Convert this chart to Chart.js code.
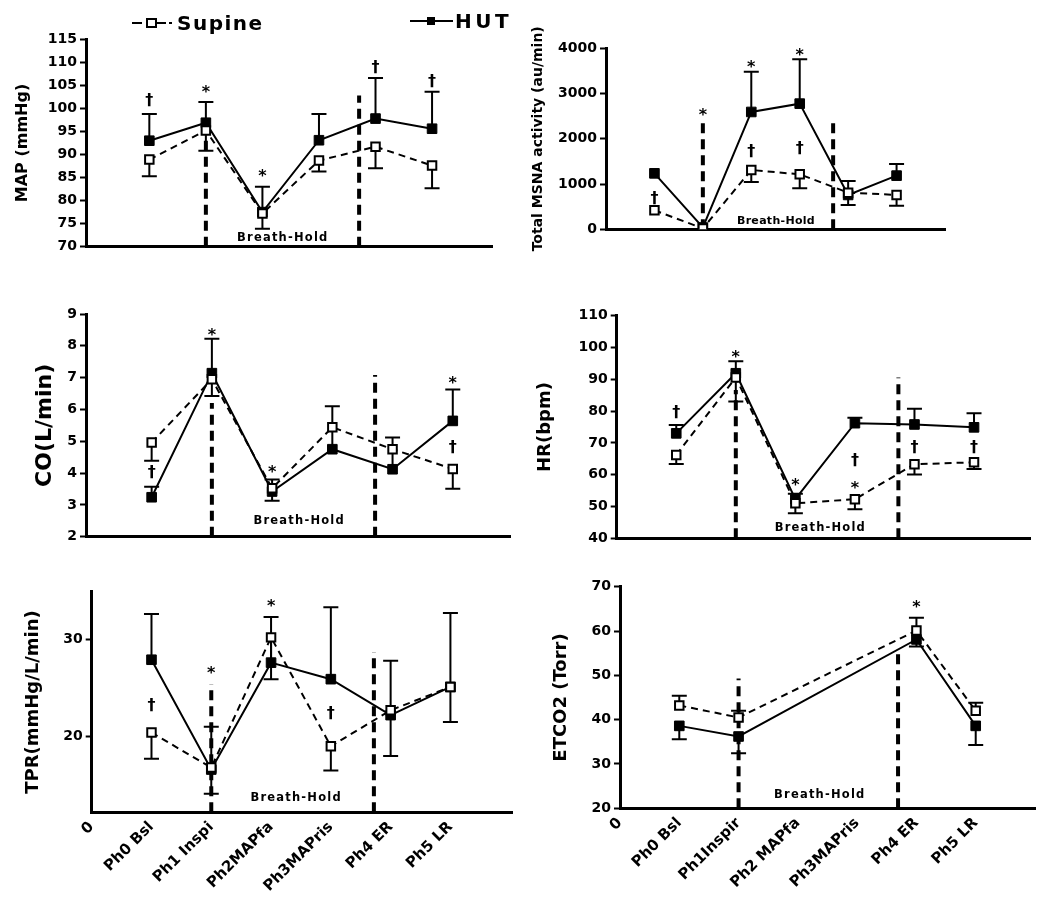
<!DOCTYPE html>
<html>
<head>
<meta charset="utf-8">
<script src="https://cdn.jsdelivr.net/npm/chart.js@4/dist/chart.umd.min.js"></script>
<style>
html,body{margin:0;padding:0;background:#fff;}
body{width:1050px;height:897px;position:relative;overflow:hidden;font-family:"DejaVu Sans","Liberation Sans",Arial,sans-serif;}
.pane{position:absolute;}
.pane canvas{display:block;}
.lg{position:absolute;background:#000;}
.lgtxt{position:absolute;font-weight:bold;font-size:20px;line-height:20px;color:#000;white-space:nowrap;}
</style>
</head>
<body>
<div class="pane" style="left:0;top:0;"><canvas id="cMAP" width="520" height="270"></canvas></div>
<div class="pane" style="left:520px;top:0;"><canvas id="cMSNA" width="530" height="270"></canvas></div>
<div class="pane" style="left:0;top:280px;"><canvas id="cCO" width="520" height="290"></canvas></div>
<div class="pane" style="left:520px;top:280px;"><canvas id="cHR" width="530" height="290"></canvas></div>
<div class="pane" style="left:0;top:570px;"><canvas id="cTPR" width="520" height="327"></canvas></div>
<div class="pane" style="left:520px;top:570px;"><canvas id="cET" width="530" height="327"></canvas></div>

<!-- legend -->
<div class="lg" style="left:132px;top:22px;width:10px;height:2px;"></div>
<div class="lg" style="left:157px;top:22px;width:9px;height:2px;"></div>
<div class="lg" style="left:169px;top:22px;width:3px;height:2px;"></div>
<div style="position:absolute;left:146px;top:18px;width:7px;height:6px;border:2px solid #000;background:#fff;"></div>
<div class="lgtxt" id="legSup" style="left:177px;top:13px;letter-spacing:1.5px;"></div>
<div class="lg" style="left:410px;top:20px;width:43px;height:2px;"></div>
<div class="lg" style="left:427px;top:17px;width:8px;height:8px;"></div>
<div class="lgtxt" id="legHut" style="left:455px;top:11px;letter-spacing:3.5px;"></div>

<script>
// ---------- categories / labels ----------
const seriesNames = ['Supine', 'HUT'];
const originLabel = '0';
const phaseLabels = ['Ph0 Bsl', 'Ph1 Inspi', 'Ph2MAPfa', 'Ph3MAPris', 'Ph4 ER', 'Ph5 LR'];
const phaseLabelsEt = ['Ph0 Bsl', 'Ph1Inspir', 'Ph2 MAPfa', 'Ph3MAPris', 'Ph4 ER', 'Ph5 LR'];
const breathHoldText = 'Breath-Hold';

// ---------- MAP (mmHg) ----------
const mapTicks = [70, 75, 80, 85, 90, 95, 100, 105, 110, 115];
const mapSupine = [88.9, 95.2, 77.2, 88.7, 91.7, 87.6];
const mapSupineErr = [85.3, 90.8, 73.9, 86.3, 87.0, 82.7];
const mapHut = [93.0, 96.9, 77.5, 93.1, 97.8, 95.6];
const mapHutErr = [98.8, 101.4, 83.0, 98.8, 106.6, 103.6];
const mapSig = [[0, 101.7, '†'], [1, 104.1, '*'], [2, 85.7, '*'], [4, 108.7, '†'], [5, 105.8, '†']];

// ---------- Total MSNA activity (au/min) ----------
const msnaTicks = [0, 1000, 2000, 3000, 4000];
const msnaSupine = [420, 20, 1311, 1215, 810, 759];
const msnaSupineErr = [null, null, 1046, 906, 538, 523];
const msnaHut = [1237, 40, 2593, 2777, 759, 1186];
const msnaHutErr = [null, null, 3484, 3757, 1068, 1444];
const msnaSig = [[0, 678, '†'], [1, 2563, '*'], [2, 3631, '*'], [3, 3904, '*'], [2, 1709, '†'], [3, 1768, '†']];

// ---------- CO (L/min) ----------
const coTicks = [2, 3, 4, 5, 6, 7, 8, 9];
const coSupine = [4.96, 6.95, 3.52, 5.44, 4.75, 4.13];
const coSupineErr = [4.39, 6.42, 3.13, null, null, 3.51];
const coHut = [3.24, 7.14, 3.42, 4.75, 4.12, 5.64];
const coHutErr = [3.57, 8.22, 3.80, 6.10, 5.12, 6.63];
const coSig = [[0, 4.01, '†'], [1, 8.41, '*'], [2, 4.09, '*'], [5, 6.91, '*'], [5, 4.78, '†']];

// ---------- HR (bpm) ----------
const hrTicks = [40, 50, 60, 70, 80, 90, 100, 110];
const hrSupine = [66.2, 90.6, 51.0, 52.3, 63.3, 63.9];
const hrSupineErr = [63.4, 83.0, 47.9, 49.1, 60.1, 61.8];
const hrHut = [73.0, 91.9, 52.3, 76.2, 75.8, 74.9];
const hrHutErr = [75.6, 95.7, 54.0, 77.9, 80.7, 79.3];
const hrSig = [[0, 79.6, '†'], [1, 97.8, '*'], [2, 57.3, '*'], [3, 64.3, '†'], [3, 56.5, '*'], [4, 68.3, '†'], [5, 68.3, '†']];

// ---------- TPR (mmHg/L/min) ----------
const tprTicks = [20, 30];
const tprSupine = [20.4, 16.8, 30.2, 19.0, 22.7, 25.1];
const tprSupineErr = [17.7, 14.1, 25.9, 16.5, 18.0, 21.5];
const tprHut = [27.9, 16.6, 27.6, 25.9, 22.2, 25.1];
const tprHutErr = [32.6, 21.0, 32.3, 33.3, 27.8, 32.7];
const tprSig = [[0, 23.15, '†'], [1, 26.75, '*'], [2, 33.66, '*'], [3, 22.33, '†']];

// ---------- ETCO2 (Torr) ----------
const etTicks = [20, 30, 40, 50, 60, 70];
const etSupine = [43.2, 40.5, null, null, 60.1, 42.0];
const etSupineErr = [45.4, 42.0, null, null, 63.0, 43.8];
const etHut = [38.6, 36.2, null, null, 58.1, 38.6];
const etHutErr = [35.6, 32.4, null, null, 56.5, 34.3];
const etSig = [[4, 66.0, '*']];

// ---------- drawing ----------
const FONT = '"DejaVu Sans", "Liberation Sans", Arial, sans-serif';
document.getElementById('legSup').textContent = seriesNames[0];
document.getElementById('legHut').textContent = seriesNames[1];

const overlay = {
  id: 'overlay',
  beforeDatasetsDraw(chart, args, o) {
    const ctx = chart.ctx, xs = chart.scales.x, ys = chart.scales.y;
    ctx.save();
    // phase divider lines
    ctx.strokeStyle = '#000';
    ctx.lineWidth = 4;
    ctx.setLineDash([10, 6]);
    o.dividers.forEach(d => {
      const px = xs.getPixelForValue(d[0]);
      ctx.beginPath();
      ctx.moveTo(px, ys.getPixelForValue(ys.min));
      ctx.lineTo(px, ys.getPixelForValue(d[1]));
      ctx.stroke();
    });
    ctx.setLineDash([]);
    // error bars
    ctx.lineWidth = 2;
    o.errors.forEach(pair => {
      const vals = pair[0], caps = pair[1];
      vals.forEach((v, i) => {
        if (v == null || caps[i] == null) return;
        const px = xs.getPixelForValue(i + 1);
        const p0 = ys.getPixelForValue(v), p1 = ys.getPixelForValue(caps[i]);
        ctx.beginPath();
        ctx.moveTo(px, p0); ctx.lineTo(px, p1);
        ctx.moveTo(px - 7.5, p1); ctx.lineTo(px + 7.5, p1);
        ctx.stroke();
      });
    });
    // Breath-Hold label
    ctx.fillStyle = '#000';
    ctx.font = 'bold ' + o.bhSize + 'px ' + FONT;
    ctx.letterSpacing = o.bhSpacing + 'px';
    ctx.textAlign = 'center';
    ctx.textBaseline = 'middle';
    ctx.fillText(breathHoldText, xs.getPixelForValue(o.bh[0]), ys.getPixelForValue(o.bh[1]));
    ctx.restore();
  },
  afterDatasetsDraw(chart, args, o) {
    const ctx = chart.ctx, xs = chart.scales.x, ys = chart.scales.y;
    ctx.save();
    ctx.fillStyle = '#000';
    ctx.font = 'bold 16px ' + FONT;
    ctx.textAlign = 'center';
    ctx.textBaseline = 'middle';
    o.sig.forEach(s => {
      const px = xs.getPixelForValue(s[0] + 1);
      const py = ys.getPixelForValue(s[1]) + (s[2] === '*' ? 3 : 0);
      ctx.fillText(s[2], px, py);
    });
    ctx.restore();
  }
};

function makePanel(p) {
  const ds = (vals, hollow) => ({
    label: hollow ? seriesNames[0] : seriesNames[1],
    data: vals.map((v, i) => ({ x: i + 1, y: v })),
    borderColor: '#000',
    borderWidth: 2,
    borderDash: hollow ? [7, 5] : [],
    pointStyle: 'rect',
    pointRadius: hollow ? 6 : 6.8,
    pointHoverRadius: hollow ? 6 : 6.8,
    pointBackgroundColor: hollow ? '#fff' : '#000',
    pointBorderColor: '#000',
    pointBorderWidth: hollow ? 2 : 1,
    spanGaps: true,
    tension: 0,
    fill: false
  });
  const xLabels = p.xLabels ? [originLabel].concat(p.xLabels) : null;
  new Chart(document.getElementById(p.id), {
    type: 'line',
    data: { datasets: [ds(p.sup, true), ds(p.hut, false)] },
    options: {
      responsive: false,
      animation: false,
      events: [],
      layout: { padding: { left: 0, top: p.padTop, right: p.padRight, bottom: 0 } },
      plugins: {
        legend: { display: false },
        tooltip: { enabled: false },
        overlay: { dividers: p.dividers, errors: [[p.sup, p.supErr], [p.hut, p.hutErr]], sig: p.sig, bh: p.bh, bhSize: p.bhSize || 11.5, bhSpacing: p.bhSpacing == null ? 1.2 : p.bhSpacing }
      },
      scales: {
        x: {
          type: 'linear',
          min: p.xMin, max: p.xMax,
          grid: { display: false, drawTicks: false },
          border: { display: true, color: '#000', width: 3 },
          ticks: xLabels ? {
            display: true, autoSkip: false, minRotation: 45, maxRotation: 45,
            color: '#000', padding: 6,
            font: { family: FONT, size: 15, weight: 'bold' },
            callback: v => xLabels[v]
          } : { display: false },
          afterBuildTicks: s => { if (xLabels) s.ticks = xLabels.map((_, i) => ({ value: i })); },
          afterFit: s => { s.height = p.xH; s.paddingLeft = 0; s.paddingRight = 0; }
        },
        y: {
          type: 'linear',
          min: p.yMin, max: p.yMax,
          grid: { display: true, drawOnChartArea: false, drawTicks: true, tickLength: 6, tickWidth: 2, tickColor: '#000' },
          border: { display: true, color: '#000', width: 3 },
          ticks: { color: '#000', padding: 3, autoSkip: false, font: { family: FONT, size: 14, weight: 'bold' }, callback: v => String(v) },
          afterBuildTicks: s => { s.ticks = p.yTicks.map(v => ({ value: v })); },
          title: { display: true, text: p.title, color: '#000', font: { family: FONT, size: p.titleSize, weight: 'bold' }, padding: { top: p.titlePad, bottom: 0 } },
          afterFit: s => { s.width = p.yW; s.paddingTop = 0; s.paddingBottom = 0; }
        }
      }
    },
    plugins: [overlay]
  });
}

makePanel({ id: 'cMAP', sup: mapSupine, supErr: mapSupineErr, hut: mapHut, hutErr: mapHutErr, sig: mapSig,
  yTicks: mapTicks, yMin: 70, yMax: 115, xMin: -0.12, xMax: 7.06,
  yW: 86, padTop: 39.3, padRight: 28, xH: 23.3,
  title: 'MAP (mmHg)', titleSize: 16, titlePad: 13.4,
  dividers: [[2, 96], [4.71, 102.8]], bh: [3.36, 71.96] });

makePanel({ id: 'cMSNA', sup: msnaSupine, supErr: msnaSupineErr, hut: msnaHut, hutErr: msnaHutErr, sig: msnaSig,
  yTicks: msnaTicks, yMin: 0, yMax: 4000, xMin: 0, xMax: 7,
  yW: 86, padTop: 48.3, padRight: 105, xH: 40.7,
  title: 'Total MSNA activity (au/min)', titleSize: 14, titlePad: 9.6,
  dividers: [[2, 2342], [4.69, 2342]], bh: [3.51, 191], bhSize: 11, bhSpacing: 0.3 });

makePanel({ id: 'cCO', sup: coSupine, supErr: coSupineErr, hut: coHut, hutErr: coHutErr, sig: coSig,
  yTicks: coTicks, yMin: 2, yMax: 9, xMin: -0.09, xMax: 6.95,
  yW: 86, padTop: 34, padRight: 10, xH: 33.3,
  title: 'CO(L/min)', titleSize: 22, titlePad: 31.8,
  dividers: [[2, 6.2], [4.71, 7.08]], bh: [3.45, 2.49] });

makePanel({ id: 'cHR', sup: hrSupine, supErr: hrSupineErr, hut: hrHut, hutErr: hrHutErr, sig: hrSig,
  yTicks: hrTicks, yMin: 40, yMax: 110, xMin: 0, xMax: 6.94,
  yW: 96.7, padTop: 35.7, padRight: 20, xH: 31.7,
  title: 'HR(bpm)', titleSize: 18, titlePad: 14.2,
  dividers: [[2, 86.6], [4.73, 90.6]], bh: [3.42, 43.1] });

makePanel({ id: 'cTPR', sup: tprSupine, supErr: tprSupineErr, hut: tprHut, hutErr: tprHutErr, sig: tprSig,
  yTicks: tprTicks, yMin: 12.2, yMax: 34.9, xMin: 0, xMax: 7.03,
  yW: 91.7, padTop: 21.7, padRight: 5, xH: 84.7, xLabels: phaseLabels,
  title: 'TPR(mmHg/L/min)', titleSize: 18, titlePad: 22.5,
  dividers: [[2, 25.4], [4.72, 28.7]], bh: [3.42, 13.66] });

makePanel({ id: 'cET', sup: etSupine, supErr: etSupineErr, hut: etHut, hutErr: etHutErr, sig: etSig,
  yTicks: etTicks, yMin: 20, yMax: 70, xMin: 0, xMax: 7,
  yW: 100, padTop: 16.7, padRight: 15, xH: 88.7, xLabels: phaseLabelsEt,
  title: 'ETCO2 (Torr)', titleSize: 18, titlePad: 30.9,
  dividers: [[2, 49.3], [4.69, 56.1]], bh: [3.37, 23.0] });
</script>
</body>
</html>
